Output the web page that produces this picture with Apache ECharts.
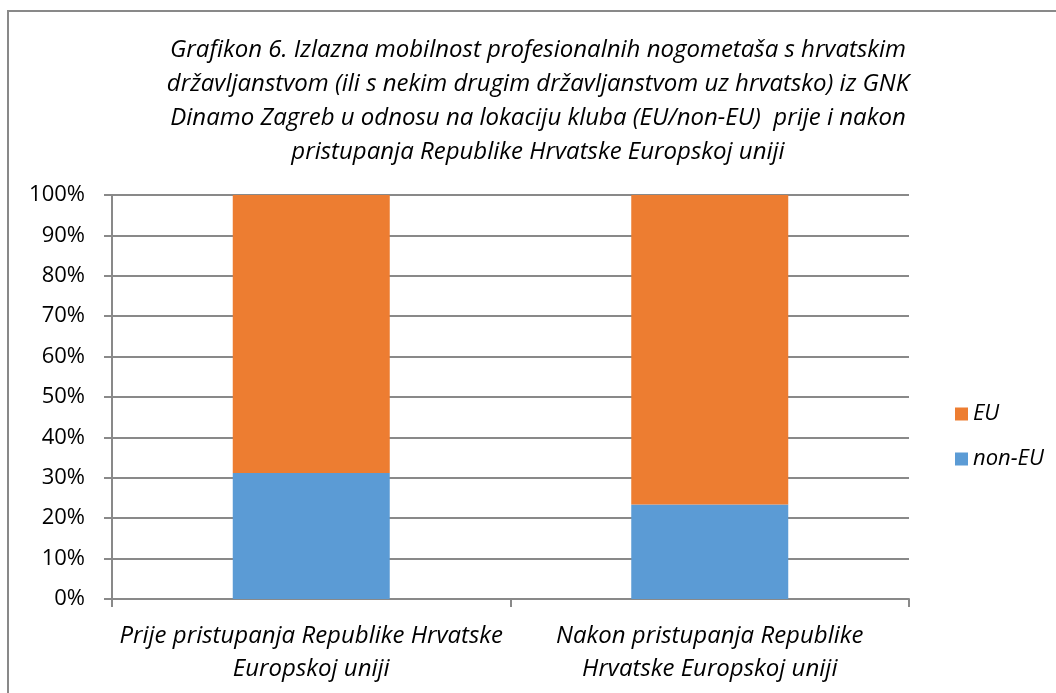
<!DOCTYPE html>
<html>
<head>
<meta charset="utf-8">
<script src="https://cdn.jsdelivr.net/npm/echarts@6/dist/echarts.min.js"></script>
<style>
html,body{margin:0;padding:0;background:#fff;}
#chart{width:1056px;height:693px;}
</style>
</head>
<body>
<div id="chart"></div>
<script>
var titleLines = [
  'Grafikon 6. Izlazna mobilnost profesionalnih nogometaša s hrvatskim',
  'državljanstvom (ili s nekim drugim državljanstvom uz hrvatsko) iz GNK',
  'Dinamo Zagreb u odnosu na lokaciju kluba (EU/non-EU)  prije i nakon',
  'pristupanja Republike Hrvatske Europskoj uniji'
];
var categories = [
  'Prije pristupanja Republike Hrvatske\nEuropskoj uniji',
  'Nakon pristupanja Republike\nHrvatske Europskoj uniji'
];
var nonEU = [31.2, 23.4];
var EU = [68.8, 76.6];
var yMin = 0, yMax = 100, yStep = 10;

var FONT = '"Open Sans", "Noto Sans", sans-serif';
var GRAY = '#898989';

var chart = echarts.init(document.getElementById('chart'), null, {renderer: 'canvas'});
chart.setOption({
  animation: false,
  backgroundColor: '#ffffff',
  textStyle: {fontFamily: FONT},
  graphic: [
    {type: 'rect', z: -1, shape: {x: 8, y: 11, width: 1100, height: 720},
     style: {fill: 'none', stroke: GRAY, lineWidth: 2}},
    {type: 'text', x: 538, y: 33, style: {
      text: titleLines.join('\n'), fill: '#000', font: 'italic 24px ' + FONT,
      textAlign: 'center', textVerticalAlign: 'top', lineHeight: 34}}
  ],
  grid: {left: 112, right: 147, top: 195, bottom: 94, containLabel: false},
  legend: {
    orient: 'vertical', left: 950, top: 398,
    data: ['EU', 'non-EU'],
    icon: 'rect', itemWidth: 13, itemHeight: 13, itemGap: 23,
    textStyle: {fontSize: 22, fontStyle: 'italic', color: '#000', fontFamily: FONT, lineHeight: 22}
  },
  xAxis: {
    type: 'category', data: categories,
    axisLine: {lineStyle: {color: GRAY, width: 2}},
    axisTick: {show: true, length: 8, lineStyle: {color: GRAY, width: 2}},
    axisLabel: {color: '#000', fontSize: 24, fontStyle: 'italic', lineHeight: 33, margin: 21, interval: 0, fontFamily: FONT}
  },
  yAxis: {
    type: 'value', min: yMin, max: yMax, interval: yStep,
    axisLine: {show: true, lineStyle: {color: GRAY, width: 2}},
    axisTick: {show: true, length: 8, lineStyle: {color: GRAY, width: 2}},
    splitLine: {lineStyle: {color: GRAY, width: 2}},
    axisLabel: {color: '#000', fontSize: 22, margin: 27, formatter: '{value}%', fontFamily: FONT}
  },
  series: [
    {name: 'non-EU', type: 'bar', stack: 'a', data: nonEU, barWidth: 157,
     itemStyle: {color: '#5B9BD5'}},
    {name: 'EU', type: 'bar', stack: 'a', data: EU, barWidth: 157,
     itemStyle: {color: '#ED7D31'}}
  ]
});
</script>
</body>
</html>
